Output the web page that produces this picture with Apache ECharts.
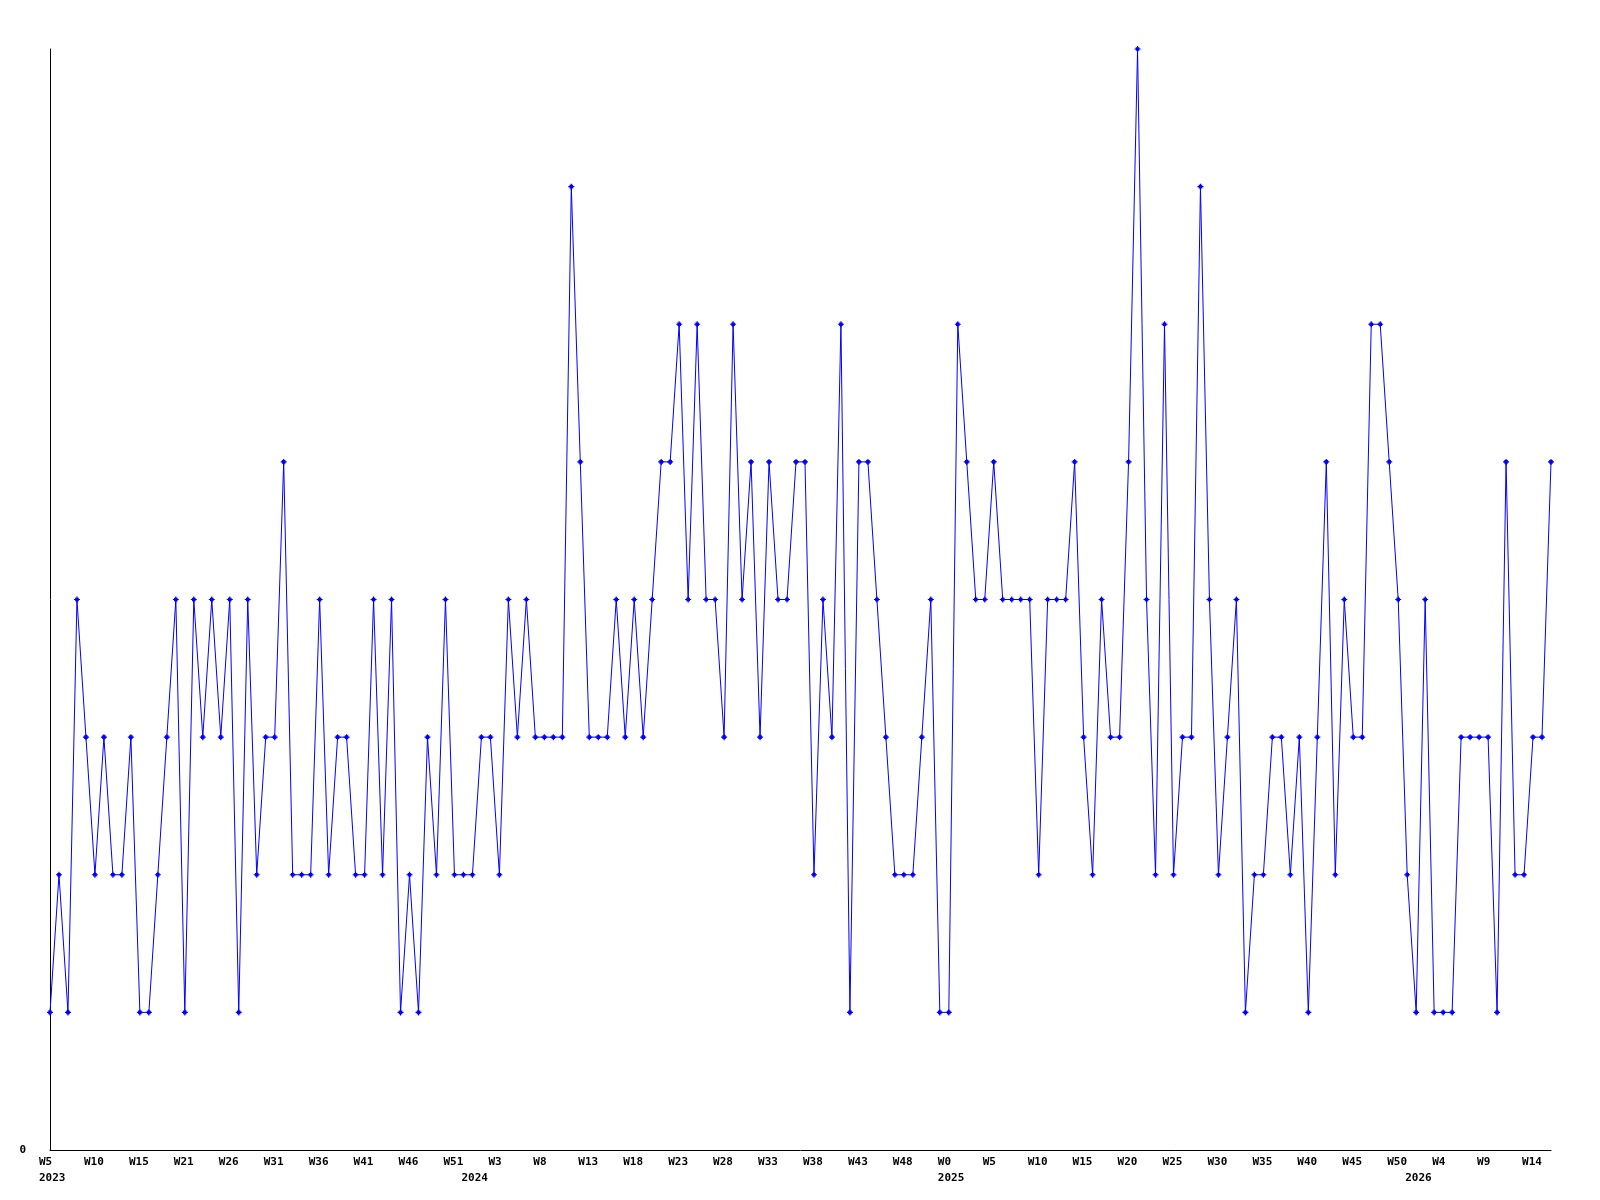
<!DOCTYPE html>
<html>
<head>
<meta charset="utf-8">
<title>Weekly count</title>
<script src="https://cdn.jsdelivr.net/npm/echarts@6/dist/echarts.min.js"></script>
<style>
  html, body { margin: 0; padding: 0; background: #fff; }
  #chart { width: 1600px; height: 1200px; }
</style>
</head>
<body>
<div id="chart"></div>
<script>
// week numbers per year, in the order they appear on the axis
const weeks2023 = [5, 6, 7, 8, 9, 10, 11, 12, 13, 14, 15, 16, 17, 19, 20,
  21, 22, 23, 24, 25, 26, 27, 28, 29, 30, 31, 32, 33, 34, 35, 36, 37, 38, 39, 40,
  41, 42, 43, 44, 45, 46, 47, 48, 49, 50, 51, 52]
const weeks2024 = [0, 1, 2, 3, 4, 5, 6, 7, 8, 9, 10, 11, 12, 13, 14, 15, 16, 17, 18, 19, 20,
  21, 22, 23, 24, 25, 26, 27, 28, 29, 30, 31, 32, 33, 34, 35, 36, 37, 38, 39, 40,
  41, 42, 43, 44, 45, 46, 47, 48, 49, 50, 51, 52]
const weeks2025 = [0, 1, 2, 3, 4, 5, 6, 7, 8, 9, 10, 11, 12, 13, 14, 15, 16, 17, 18, 19, 20,
  21, 22, 23, 24, 25, 26, 27, 28, 29, 30, 31, 32, 33, 34, 35, 36, 37, 38, 39, 40,
  41, 42, 43, 44, 45, 46, 47, 48, 49, 50, 51]
const weeks2026 = [1, 2, 3, 4, 5, 6, 7, 8, 9, 10, 11, 12, 13, 14, 15, 16]

const counts = [
  1, 2, 1, 4, 3, 2, 3, 2, 2, 3,
  1, 1, 2, 3, 4, 1, 4, 3, 4, 3,
  4, 1, 4, 2, 3, 3, 5, 2, 2, 2,
  4, 2, 3, 3, 2, 2, 4, 2, 4, 1,
  2, 1, 3, 2, 4, 2, 2, 2, 3, 3,
  2, 4, 3, 4, 3, 3, 3, 3, 7, 5,
  3, 3, 3, 4, 3, 4, 3, 4, 5, 5,
  6, 4, 6, 4, 4, 3, 6, 4, 5, 3,
  5, 4, 4, 5, 5, 2, 4, 3, 6, 1,
  5, 5, 4, 3, 2, 2, 2, 3, 4, 1,
  1, 6, 5, 4, 4, 5, 4, 4, 4, 4,
  2, 4, 4, 4, 5, 3, 2, 4, 3, 3,
  5, 8, 4, 2, 6, 2, 3, 3, 7, 4,
  2, 3, 4, 1, 2, 2, 3, 3, 2, 3,
  1, 3, 5, 2, 4, 3, 3, 6, 6, 5,
  4, 2, 1, 4, 1, 1, 1, 3, 3, 3,
  3, 1, 5, 2, 2, 3, 3, 5
]

const categories = []
;[[2023, weeks2023], [2024, weeks2024], [2025, weeks2025], [2026, weeks2026]].forEach(([year, weeks]) => {
  weeks.forEach(w => categories.push(year + '-W' + w))
})

const yearOf = c => c.split('-')[0]
const weekOf = c => c.split('-')[1]
const isYearStart = i => i === 0 || yearOf(categories[i]) !== yearOf(categories[i - 1])

const labelFont = {
  color: '#000',
  fontFamily: 'DejaVu Sans Mono',
  fontWeight: 'bold',
  fontSize: 11
}

const chart = echarts.init(document.getElementById('chart'))

chart.setOption({
  animation: false,
  backgroundColor: '#fff',
  grid: { left: 50, right: 49, top: 49, bottom: 50, containLabel: false },
  xAxis: [
    {
      type: 'category',
      data: categories,
      boundaryGap: false,
      axisLine: { lineStyle: { color: '#000', width: 1 } },
      axisTick: { show: false },
      splitLine: { show: false },
      axisLabel: {
        ...labelFont,
        interval: 4,
        margin: 7,
        align: 'left',
        padding: [0, 0, 0, -11],
        formatter: v => weekOf(v)
      }
    },
    {
      // second row: year under the first week of each year
      type: 'category',
      data: categories,
      boundaryGap: false,
      position: 'bottom',
      offset: 16,
      axisLine: { show: false },
      axisTick: { show: false },
      splitLine: { show: false },
      axisLabel: {
        ...labelFont,
        margin: 7,
        align: 'left',
        padding: [0, 0, 0, -11],
        interval: (index) => isYearStart(index),
        formatter: v => yearOf(v)
      }
    }
  ],
  yAxis: {
    type: 'value',
    min: 0,
    max: 8,
    interval: 8,
    axisLine: { show: true, lineStyle: { color: '#000', width: 1 } },
    axisTick: { show: false },
    splitLine: { show: false },
    axisLabel: {
      ...labelFont,
      margin: 24,
      formatter: v => (v === 0 ? '0' : '')
    }
  },
  series: [
    {
      type: 'line',
      data: counts,
      xAxisIndex: 0,
      color: '#0000ff',
      lineStyle: { color: '#0000ff', width: 1 },
      symbol: 'path://M2,0H3V1H4V2H5V3H4V4H3V5H2V4H1V3H0V2H1V1H2Z',
      symbolSize: 6,
      showSymbol: true,
      showAllSymbol: true,
      itemStyle: { color: '#0000ff' }
    }
  ]
})

window.addEventListener('resize', () => chart.resize())
</script>
</body>
</html>
